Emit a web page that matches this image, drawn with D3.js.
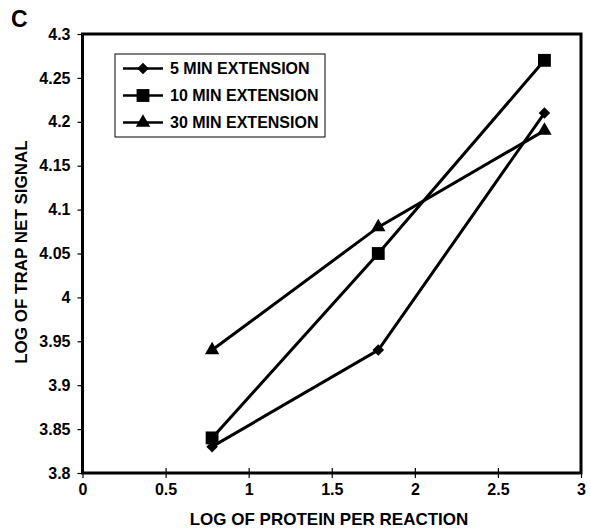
<!DOCTYPE html>
<meta charset="utf-8">
<style>
body { margin: 0; background: #fff; }
svg text { font-family: "Liberation Sans", Arial, sans-serif; font-weight: bold; fill: #000; }
.axis path { display: none; }
.axis line { stroke: #000; stroke-width: 1.2; }
.axis text { font-size: 16px; }
</style>
<body>
<svg width="591" height="531"></svg>
<script src="https://d3js.org/d3.v7.min.js"></script>
<script>

var xValues = [0.78, 1.78, 2.78];
var min5 = [3.83, 3.94, 4.21];
var min10 = [3.84, 4.05, 4.27];
var min30 = [3.94, 4.08, 4.19];
var seriesNames = ["5 MIN EXTENSION", "10 MIN EXTENSION", "30 MIN EXTENSION"];
var xTicks = [0, 0.5, 1, 1.5, 2, 2.5, 3];
var yTicks = [3.8, 3.85, 3.9, 3.95, 4, 4.05, 4.1, 4.15, 4.2, 4.25, 4.3];

var svg = d3.select("svg"),
    margin = {top: 34, right: 10, bottom: 58, left: 82.5},
    width = 581 - margin.left,
    height = 473 - margin.top,
    g = svg.append("g").attr("transform", "translate(" + margin.left + "," + margin.top + ")");

var x = d3.scaleLinear().domain([0, 3]).range([0, width]);
var y = d3.scaleLinear().domain([3.8, 4.3]).range([height, 0]);

var series = [
  {name: seriesNames[0], values: min5, symbol: d3.symbolDiamond2, size: 85},
  {name: seriesNames[1], values: min10, symbol: d3.symbolSquare, size: 165},
  {name: seriesNames[2], values: min30, symbol: d3.symbolTriangle, size: 90}
];

// axes
g.append("g")
    .attr("class", "axis")
    .call(d3.axisLeft(y).tickValues(yTicks).tickSize(5).tickPadding(7)
      .tickFormat(function(d) { return d3.format("")(+d.toFixed(2)); }));

var xa = g.append("g")
    .attr("class", "axis")
    .attr("transform", "translate(0," + height + ")")
    .call(d3.axisBottom(x).tickValues(xTicks).tickSize(5).tickPadding(6)
      .tickFormat(function(d) { return d3.format("")(d); }));
xa.selectAll(".tick line").attr("y1", -5);

// frame
g.append("rect")
    .attr("width", width)
    .attr("height", height)
    .attr("fill", "none")
    .attr("stroke", "#000")
    .attr("stroke-width", 3);

var line = d3.line()
    .x(function(d, i) { return x(xValues[i]); })
    .y(function(d) { return y(d); });

series.forEach(function(s) {
  g.append("path")
      .attr("d", line(s.values))
      .attr("fill", "none")
      .attr("stroke", "#000")
      .attr("stroke-width", 3);

  g.selectAll(null)
    .data(s.values)
    .enter().append("path")
      .attr("transform", function(d, i) { return "translate(" + x(xValues[i]) + "," + y(d) + ")"; })
      .attr("d", d3.symbol().type(s.symbol).size(s.size))
      .attr("fill", "#000");
});

// legend
var legend = svg.append("g").attr("transform", "translate(115,54)");
legend.append("rect")
    .attr("width", 210)
    .attr("height", 83)
    .attr("fill", "#fff")
    .attr("stroke", "#000")
    .attr("stroke-width", 1);

var item = legend.selectAll(".item")
    .data(series)
    .enter().append("g")
      .attr("class", "item")
      .attr("transform", function(d, i) { return "translate(0," + (14.5 + i * 27) + ")"; });

item.append("line")
    .attr("x1", 8).attr("x2", 48)
    .attr("stroke", "#000")
    .attr("stroke-width", 2.5);

item.append("path")
    .attr("transform", "translate(28,0)")
    .attr("d", function(d) { return d3.symbol().type(d.symbol).size(d.size)(); })
    .attr("fill", "#000");

item.append("text")
    .attr("x", 55)
    .attr("dy", "0.36em")
    .style("font-size", "16px")
    .text(function(d) { return d.name; });

// titles
svg.append("text")
    .attr("x", 329)
    .attr("y", 525)
    .attr("text-anchor", "middle")
    .style("font-size", "17px")
    .text("LOG OF PROTEIN PER REACTION");

svg.append("text")
    .attr("transform", "translate(27,252) rotate(-90)")
    .attr("text-anchor", "middle")
    .style("font-size", "17px")
    .text("LOG OF TRAP NET SIGNAL");

svg.append("text")
    .attr("x", 11)
    .attr("y", 27)
    .style("font-size", "23px")
    .text("C");

</script>
</body>
